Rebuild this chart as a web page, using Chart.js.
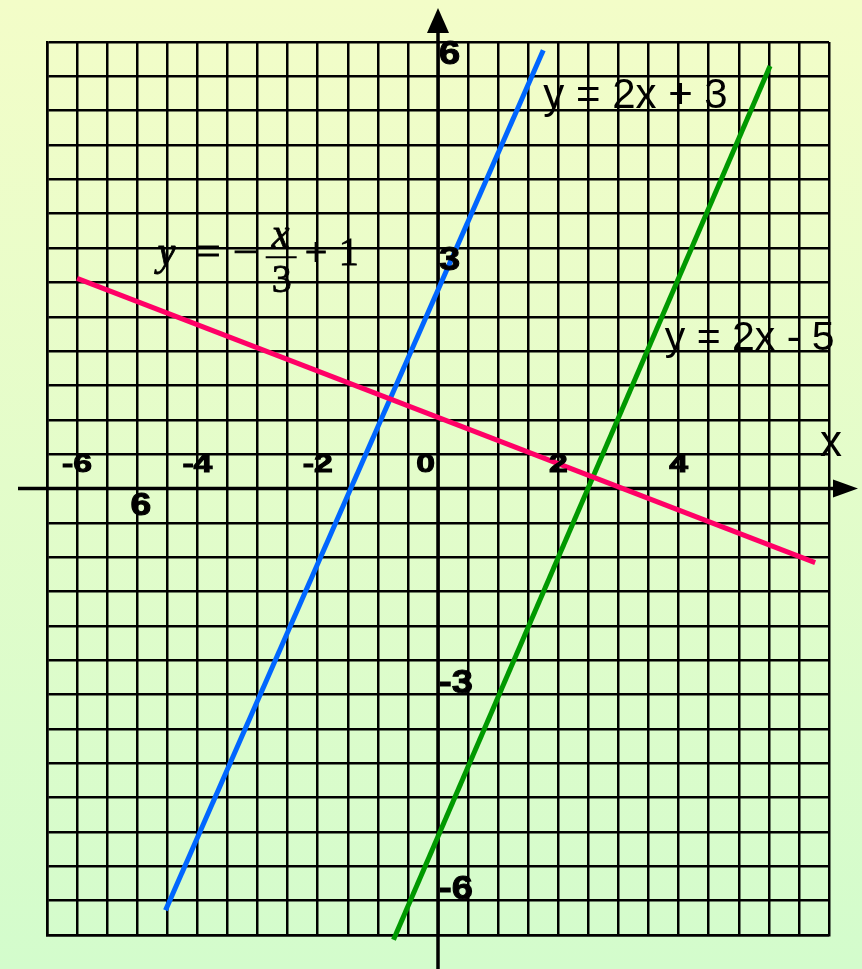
<!DOCTYPE html>
<html>
<head>
<meta charset="utf-8">
<script src="https://cdn.jsdelivr.net/npm/chart.js@4"></script>
<style>
  html, body { margin: 0; padding: 0; }
  body { width: 862px; height: 969px; overflow: hidden; }
  #graph { display: block; }
</style>
</head>
<body>
<canvas id="graph" width="862" height="969"></canvas>
<script>
// 直線の端点
const blueX = [-4.53, 1.75];
const blueY = [-6.14, 6.38];
const greenX = [-0.74, 5.52];
const greenY = [-6.57, 6.15];
const pinkX = [-6.0, 6.27];
const pinkY = [3.06, -1.08];

// 目盛りラベル
const xTickValues = [-6, -4, -2, 0, 2, 4];
const yTickValues = [6, 3, -3, -6];

// 直線のラベル
const lineLabels = ["y = 2x + 3", "y = 2x - 5"];

// 方眼の範囲
const axisMin = -6.5;
const axisMax = 6.5;
const gridStep = 0.5;

drawGraph();
function drawGraph() {
  const graphElement = document.getElementById("graph");
  if (!graphElement) {
    return;
  }

  const toPoints = (xs, ys) => xs.map((x, i) => ({ x, y: ys[i] }));

  const sans = "'Liberation Sans', Arial, sans-serif";
  const serif = "'Liberation Serif', 'Times New Roman', serif";

  // 文字描画（横方向に伸ばせる、太らせる）
  const drawText = (ctx, text, x, y, font, align, sx, heavy) => {
    ctx.save();
    ctx.font = font;
    ctx.textAlign = align;
    ctx.textBaseline = "alphabetic";
    ctx.fillStyle = "#000";
    ctx.translate(x, y);
    ctx.scale(sx || 1, 1);
    ctx.fillText(text, 0, 0);
    if (heavy) {
      ctx.strokeStyle = "#000";
      ctx.lineWidth = heavy;
      ctx.strokeText(text, 0, 0);
    }
    ctx.restore();
  };

  const decorPlugin = {
    id: "decor",
    beforeDraw(chart) {
      const { ctx, width, height } = chart;
      const g = ctx.createLinearGradient(0, 0, 0, height);
      g.addColorStop(0, "#f3fdc8");
      g.addColorStop(1, "#d3fccc");
      ctx.save();
      ctx.fillStyle = g;
      ctx.fillRect(0, 0, width, height);
      ctx.restore();
    },
    // 矢印つきの座標軸
    beforeDatasetsDraw(chart) {
      const { ctx, chartArea, height } = chart;
      const x0 = chart.scales.x.getPixelForValue(0);
      const y0 = chart.scales.y.getPixelForValue(0);
      const left = chartArea.left - 29;
      const tipX = chartArea.right + 29;
      const tipY = chartArea.top - 34;
      ctx.save();
      ctx.strokeStyle = "#000";
      ctx.fillStyle = "#000";
      ctx.lineWidth = 3.5;
      ctx.beginPath();
      ctx.moveTo(left, y0);
      ctx.lineTo(tipX - 20, y0);
      ctx.moveTo(x0, height);
      ctx.lineTo(x0, tipY + 20);
      ctx.stroke();
      ctx.beginPath();
      ctx.moveTo(tipX, y0);
      ctx.lineTo(tipX - 25, y0 - 9);
      ctx.lineTo(tipX - 25, y0 + 9);
      ctx.closePath();
      ctx.fill();
      ctx.beginPath();
      ctx.moveTo(x0, tipY);
      ctx.lineTo(x0 - 11, tipY + 25);
      ctx.lineTo(x0 + 11, tipY + 25);
      ctx.closePath();
      ctx.fill();
      ctx.restore();
    },
    afterDraw(chart) {
      const { ctx, chartArea } = chart;
      const xs = chart.scales.x;
      const ys = chart.scales.y;
      const x0 = xs.getPixelForValue(0);
      const y0 = ys.getPixelForValue(0);

      // x軸の目盛り
      xTickValues.forEach((v) => {
        const px = xs.getPixelForValue(v);
        if (v === 0) {
          drawText(ctx, String(v), px - 3, y0 - 17, `bold 25px ${sans}`, "right", 1.35, 1);
        } else {
          drawText(ctx, String(v), px, y0 - 17, `bold 25px ${sans}`, "center", 1.35, 1);
        }
      });

      // y軸の目盛り
      yTickValues.forEach((v) => {
        const py = ys.getPixelForValue(v) - (v > 0 ? 12 : 2);
        drawText(ctx, String(v), x0 + 1, py, `bold 34px ${sans}`, "left", 1.12, 1);
      });

      // 迷子の「6」
      drawText(ctx, "6", xs.getPixelForValue(-4.94), ys.getPixelForValue(-0.39), `bold 31px ${sans}`, "center", 1.2, 1);

      // 軸名
      drawText(ctx, "x", chartArea.right + 2, y0 - 33, `44px ${sans}`, "center");

      // 直線ラベル
      drawText(ctx, lineLabels[0], xs.getPixelForValue(1.75), ys.getPixelForValue(5.54), `42px ${sans}`, "left");
      drawText(ctx, lineLabels[1], xs.getPixelForValue(3.77), ys.getPixelForValue(2.02), `41px ${sans}`, "left");

      // y = -x/3 + 1 の数式
      const ax = xs.getPixelForValue(-4.66);
      const ay = ys.getPixelForValue(3.25);
      const f = `40px ${serif}`;
      const fi = `italic 40px ${serif}`;
      drawText(ctx, "y", ax, ay, fi, "left", 1, 0.8);
      drawText(ctx, "=", ax + 37, ay, f, "left", 1.15, 0.8);
      drawText(ctx, "\u2212", ax + 75, ay, f, "left", 1.15, 0.8);
      drawText(ctx, "x", ax + 123, ay - 18, fi, "center", 1, 0.8);
      drawText(ctx, "3", ax + 124, ay + 27, f, "center", 1, 0.8);
      drawText(ctx, "+", ax + 147, ay, f, "left", 1, 0.8);
      drawText(ctx, "1", ax + 181, ay, f, "left", 1, 0.8);
      ctx.save();
      ctx.strokeStyle = "#000";
      ctx.lineWidth = 2;
      ctx.beginPath();
      ctx.moveTo(ax + 108, ay - 8);
      ctx.lineTo(ax + 139, ay - 8);
      ctx.stroke();
      ctx.restore();
    },
  };

  const lineStyle = {
    showLine: true,
    pointRadius: 0,
    borderWidth: 5,
    borderCapStyle: "butt",
    clip: false,
  };

  const gridScale = {
    type: "linear",
    min: axisMin,
    max: axisMax,
    ticks: { display: false, stepSize: gridStep },
    grid: { color: "#000", lineWidth: 2.5, drawTicks: false },
    border: { display: true, color: "#000", width: 2.5 },
  };

  new Chart(graphElement.getContext("2d"), {
    type: "scatter",
    data: {
      datasets: [
        { ...lineStyle, data: toPoints(pinkX, pinkY), borderColor: "#ff0066" },
        { ...lineStyle, data: toPoints(blueX, blueY), borderColor: "#0066ff" },
        { ...lineStyle, data: toPoints(greenX, greenY), borderColor: "#009900" },
      ],
    },
    options: {
      responsive: false,
      animation: false,
      layout: { padding: { left: 47, top: 42, right: 33, bottom: 34 } },
      scales: {
        x: { ...gridScale },
        y: { ...gridScale },
      },
      plugins: {
        legend: { display: false },
        tooltip: { enabled: false },
      },
    },
    plugins: [decorPlugin],
  });
}
</script>
</body>
</html>
